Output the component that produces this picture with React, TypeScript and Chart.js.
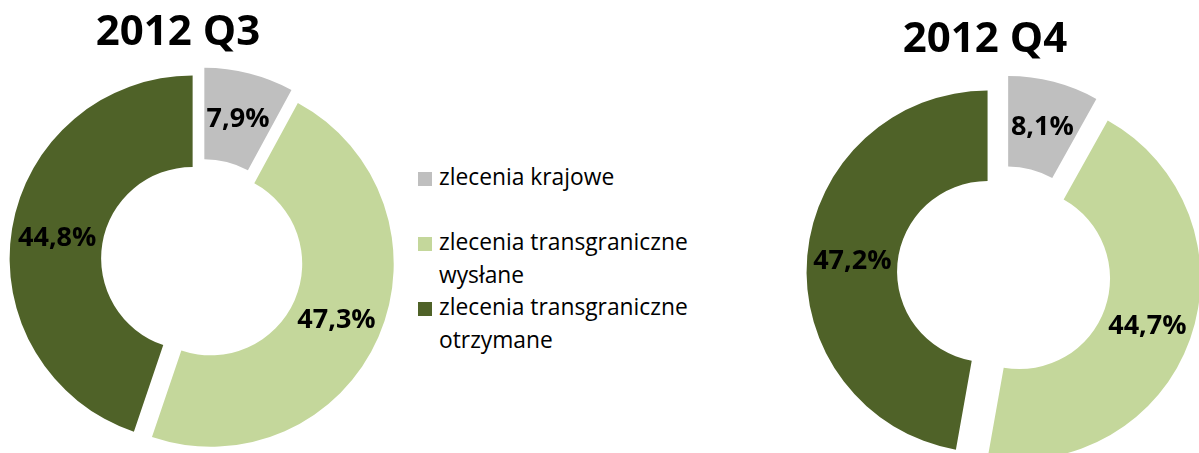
import React, { useEffect, useRef } from 'react';
import { Chart, registerables } from 'chart.js';

Chart.register(...registerables);

// ---- data ----
const categories = [
  'zlecenia krajowe',
  'zlecenia transgraniczne wysłane',
  'zlecenia transgraniczne otrzymane',
];
const periods = ['2012 Q3', '2012 Q4'];
const q3Values = [7.9, 47.3, 44.8];
const q4Values = [8.1, 44.7, 47.2];
const sliceColors = ['#BFBFBF', '#C4D79B', '#4F6228'];

const fmt = (v: number) => v.toFixed(1).replace('.', ',') + '%';

// Excel-like "exploded" doughnut: every slice is moved outward along its mid angle
const explodePlugin = {
  id: 'explode',
  beforeDatasetDraw(chart: any, args: any, opts: any) {
    const d = (opts && opts.distance) || 0;
    const ctx = chart.ctx;
    const ds = chart.data.datasets[args.index];
    const arcs = args.meta.data;
    arcs.forEach((el: any) => {
      const mid = (el.startAngle + el.endAngle) / 2;
      ctx.save();
      ctx.translate(Math.cos(mid) * d, Math.sin(mid) * d);
      el.draw(ctx);
      ctx.restore();
    });
    arcs.forEach((el: any, i: number) => {
      const mid = (el.startAngle + el.endAngle) / 2;
      const r = (el.innerRadius + el.outerRadius) / 2 + d;
      ctx.save();
      ctx.font = opts.font;
      ctx.fillStyle = '#000000';
      ctx.textAlign = 'center';
      ctx.textBaseline = 'middle';
      ctx.fillText(fmt(ds.data[i]), el.x + Math.cos(mid) * r, el.y + Math.sin(mid) * r + 2);
      ctx.restore();
    });
    return false;
  },
};

type DonutProps = {
  values: number[];
  radius: number;
  distance: number;
  left: number;
  width: number;
  height: number;
  padding: { left: number; right: number; top: number; bottom: number };
};

function Donut({ values, radius, distance, left, width, height, padding }: DonutProps) {
  const ref = useRef<HTMLCanvasElement>(null);
  useEffect(() => {
    const chart = new Chart(ref.current as HTMLCanvasElement, {
      type: 'doughnut',
      data: {
        labels: categories,
        datasets: [
          {
            data: values,
            backgroundColor: sliceColors,
            borderWidth: 0,
            hoverOffset: 0,
          },
        ],
      },
      options: {
        responsive: false,
        maintainAspectRatio: false,
        animation: false,
        events: [],
        cutout: '50%',
        radius: radius,
        layout: { padding },
        plugins: {
          legend: { display: false },
          tooltip: { enabled: false },
          title: { display: false },
          explode: { distance, font: 'bold 27px "Open Sans", sans-serif' },
        } as any,
      } as any,
      plugins: [explodePlugin as any],
    });
    return () => chart.destroy();
  }, []);
  return (
    <canvas
      ref={ref}
      width={width}
      height={height}
      style={{ position: 'absolute', left, top: 0, width, height }}
    />
  );
}

const titleStyle = (centerX: number, top: number): React.CSSProperties => ({
  position: 'absolute',
  left: centerX - 150,
  top,
  width: 300,
  textAlign: 'center',
  fontFamily: '"Open Sans", sans-serif',
  fontWeight: 700,
  fontSize: 42,
  lineHeight: '42px',
  color: '#000',
  whiteSpace: 'nowrap',
});

export default function App() {
  return (
    <div
      style={{
        position: 'fixed',
        left: 0,
        top: 0,
        width: 1199,
        height: 453,
        overflow: 'hidden',
        background: '#ffffff',
      }}
    >
      <Donut
        values={q3Values}
        radius={183}
        distance={9.5}
        left={0}
        width={404}
        height={453}
        padding={{ left: 0, right: 0, top: 67, bottom: 0 }}
      />
      <Donut
        values={q4Values}
        radius={181}
        distance={16.5}
        left={780}
        width={419}
        height={453}
        padding={{ left: 29, right: 0, top: 93, bottom: 0 }}
      />
      <div style={titleStyle(178, 8)}>{periods[0]}</div>
      <div style={titleStyle(985, 15)}>{periods[1]}</div>

      <div style={{ position: 'absolute', left: 418, top: 161, width: 290 }}>
        {categories.map((c, i) => (
          <div key={c} style={{ position: 'relative', height: 65 }}>
            <div
              style={{
                position: 'absolute',
                left: 0,
                top: 11,
                width: 14,
                height: 14,
                background: sliceColors[i],
              }}
            />
            <div
              style={{
                position: 'absolute',
                left: 21,
                top: 0,
                width: 262,
                fontFamily: '"Open Sans", sans-serif',
                fontSize: 22.8,
                lineHeight: '32.5px',
                color: '#000',
              }}
            >
              {c}
            </div>
          </div>
        ))}
      </div>
    </div>
  );
}
